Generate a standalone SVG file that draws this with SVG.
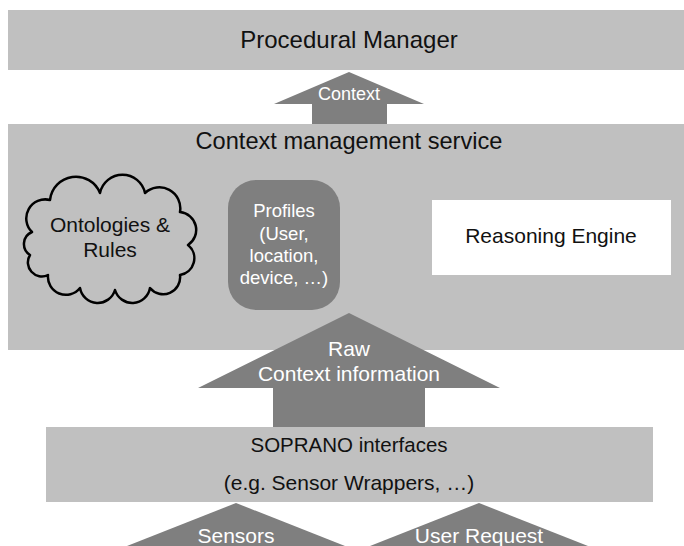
<svg xmlns="http://www.w3.org/2000/svg" width="684" height="546" viewBox="0 0 684 546">
  <style>
    .panel { fill: #c0c0c0; }
    .arrow { fill: #7f7f7f; }
    .dark { fill: #7f7f7f; }
    .lbl { font-family: "Liberation Sans", Arial, sans-serif; fill: #111; text-anchor: middle; }
    .inv { font-family: "Liberation Sans", Arial, sans-serif; fill: #fff; text-anchor: middle; }
    .cloud { fill: #c0c0c0; stroke: #000; stroke-width: 2.5; stroke-linejoin: round; }
  </style>
  <rect width="684" height="546" fill="#fff"/>

  <!-- Top layer -->
  <g id="procedural-manager">
    <rect class="panel" x="8" y="10" width="676" height="60"/>
    <text class="lbl" x="349" y="48" font-size="24">Procedural Manager</text>
  </g>

  <!-- Context management service with its parts -->
  <g id="context-management-service">
    <rect class="panel" x="8" y="124" width="676" height="226"/>
    <text class="lbl" x="349" y="149" font-size="23.6">Context management service</text>
  </g>

  <g id="ontologies-rules">
    <path class="cloud" d="M32,232 A19,19 0 0 1 50,200 A26,26 0 0 1 100,193 A23,23 0 0 1 145,193 A21,21 0 0 1 180,212 A18,18 0 0 1 188,245 A17,17 0 0 1 180,275 A17,17 0 0 1 150,288 A18,18 0 0 1 115,290 A18,18 0 0 1 80,288 A18,18 0 0 1 48,275 A14,14 0 0 1 30,255 A13,13 0 0 1 32,232 Z"/>
    <text class="lbl" x="110" y="232" font-size="21">Ontologies &amp;</text>
    <text class="lbl" x="110" y="257" font-size="21">Rules</text>
  </g>

  <g id="profiles">
    <rect class="dark" x="228" y="180" width="112" height="130" rx="28" ry="28"/>
    <text class="inv" x="284" y="217" font-size="18.5">Profiles</text>
    <text class="inv" x="284" y="240" font-size="18.5">(User,</text>
    <text class="inv" x="284" y="262" font-size="18.5">location,</text>
    <text class="inv" x="284" y="284" font-size="18.5">device, …)</text>
  </g>

  <g id="reasoning-engine">
    <rect x="432" y="200" width="239" height="75" fill="#fff"/>
    <text class="lbl" x="551" y="243" font-size="21">Reasoning Engine</text>
  </g>

  <!-- Interface layer -->
  <g id="soprano-interfaces">
    <rect class="panel" x="46" y="427" width="607" height="75"/>
    <text class="lbl" x="349" y="452" font-size="20.5">SOPRANO interfaces</text>
    <text class="lbl" x="349" y="490" font-size="21">(e.g. Sensor Wrappers, …)</text>
  </g>

  <!-- Block arrows between layers -->
  <g id="connectors">
    <g id="arrow-context">
      <polygon class="arrow" points="349,72 424,104 387,104 387,124 312,124 312,104 274,104"/>
      <text class="inv" x="349" y="100" font-size="18">Context</text>
    </g>
    <g id="arrow-raw-context">
      <polygon class="arrow" points="349,313 500,388 425,388 425,427 273,427 273,388 198,388"/>
      <text class="inv" x="349" y="356" font-size="21">Raw</text>
      <text class="inv" x="349" y="381" font-size="21">Context information</text>
    </g>
    <g id="arrow-sensors">
      <polygon class="arrow" points="236,503 345,546 127,546"/>
      <text class="inv" x="236" y="543" font-size="21">Sensors</text>
    </g>
    <g id="arrow-user-request">
      <polygon class="arrow" points="479,503 588,546 370,546"/>
      <text class="inv" x="479" y="543" font-size="21">User Request</text>
    </g>
  </g>
</svg>
